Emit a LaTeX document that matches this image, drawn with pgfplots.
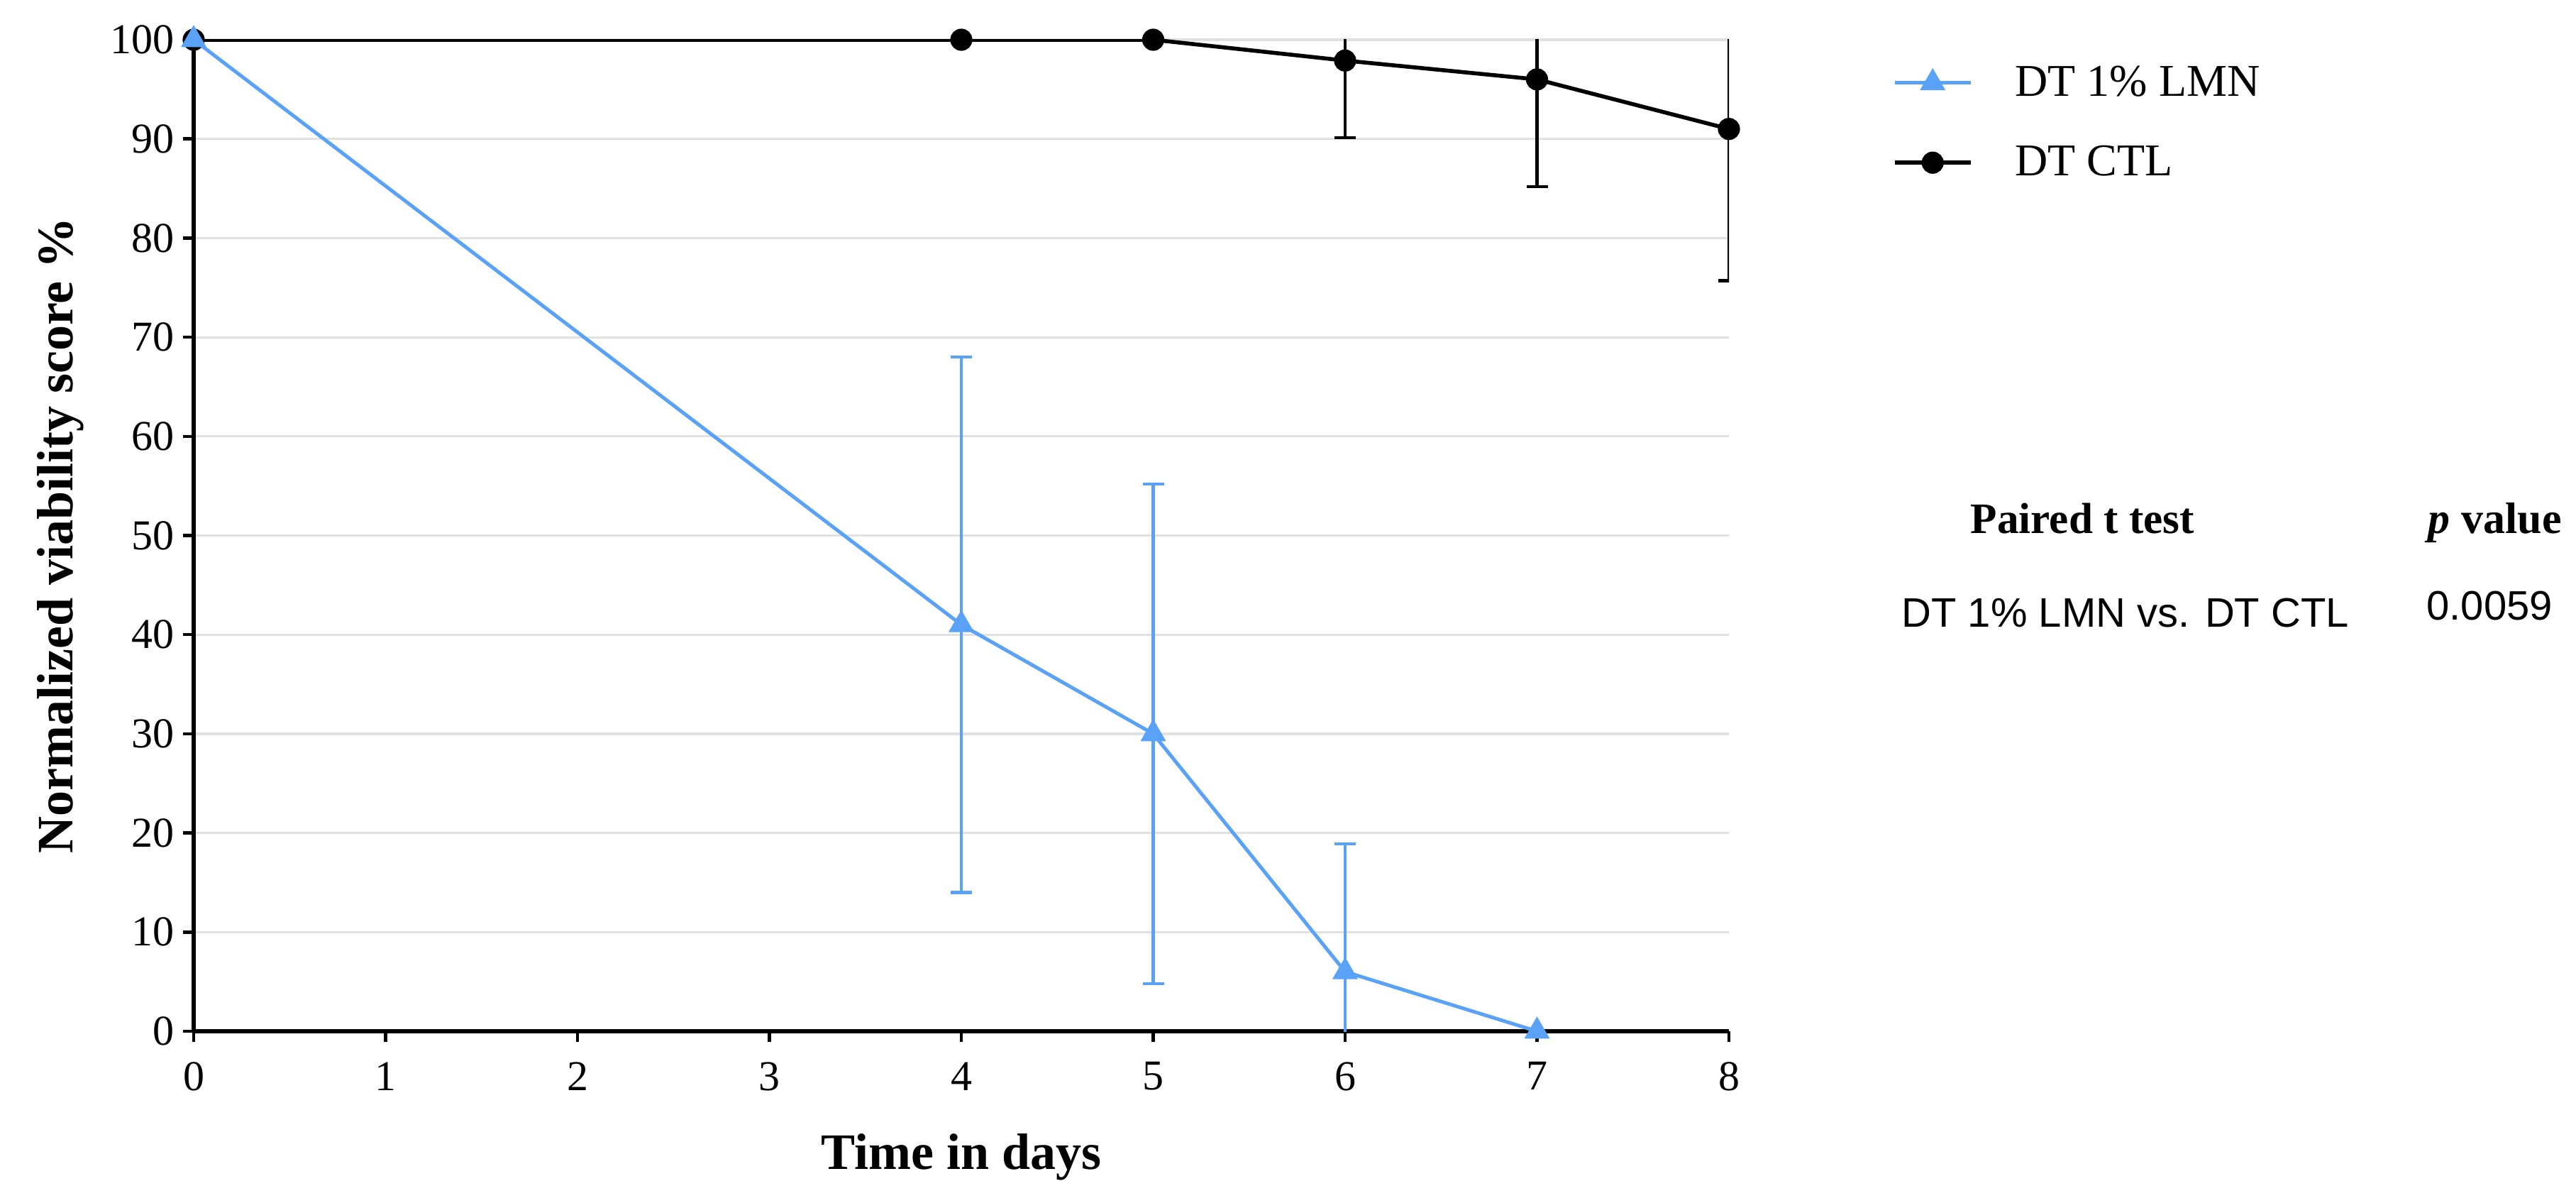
\documentclass[border=0pt]{standalone}
\usepackage{fontspec}
\setmainfont{Liberation Serif}
\newfontfamily\arialfont{Liberation Sans}
\usepackage{pgfplots}
\pgfplotsset{compat=1.18}
\definecolor{lmnblue}{RGB}{90,162,248}
\definecolor{gridgray}{RGB}{225,225,225}

\begin{document}
\begin{tikzpicture}
\begin{axis}[
    scale only axis,
    width=541pt, height=349.25pt,
    xmin=0, xmax=8, ymin=0, ymax=100,
    xtick={0,1,...,8},
    ytick={0,10,...,100},
    axis lines=left,
    axis line style={-, black, line width=1.4pt},
    tick style={black, line width=1.1pt},
    major tick length=3.7pt,
    tick align=outside,
    ymajorgrids,
    grid style={gridgray, line width=0.8pt},
    clip mode=individual,
    /pgf/number format/assume math mode=true,
    tick label style={font=\fontsize{15}{18}\selectfont, inner sep=0pt},
    xticklabel style={yshift=-7pt},
    yticklabel style={xshift=-3pt},
    xlabel={\bfseries Time in days},
    ylabel={\bfseries Normalized viability score \%},
    label style={font=\fontsize{18}{21}\selectfont},
    xlabel style={at={(axis description cs:0.5,-0.1389)}, anchor=base},
    ylabel style={at={(axis description cs:-0.0786,0.5)}, anchor=base, rotate=0},
    reverse legend,
    legend style={at={(1.1063,0.9163)}, anchor=west, draw=none, fill=none,
        inner sep=0pt, font=\fontsize{16}{19}\selectfont,
        row sep=16pt, column sep=15pt,
        nodes={inner sep=0pt, anchor=west}},
    legend cell align=left,
    legend image code/.code={
        \draw[mark repeat=2,mark phase=2] plot coordinates {(0pt,0pt) (13.4pt,0pt) (26.8pt,0pt)};},
]
% DT CTL
\addplot[black, line width=1.4pt, mark=*, mark size=3.5pt,
    mark options={solid, fill=black, line width=0.8pt}]
    table[x=x, y=y] {
    x y
    0 100
    4 100
    5 100
    6 97.9
    7 96.0
    8 91.0
    };
\addlegendentry{DT CTL}
\addplot[forget plot, black, only marks, mark=none,
    error bars/.cd, y dir=both, y explicit,
    error bar style={black, line width=1.05pt},
    error mark options={black, line width=1.05pt, mark size=3.75pt, rotate=90}]
    table[x=x, y=y, y error=e] {
    x y e
    6 97.9 7.8
    7 96.0 10.8
    8 91.0 15.3
    };

% DT 1% LMN
\addplot[lmnblue, line width=1.25pt, mark=triangle*, mark size=4.6pt,
    mark options={solid, fill=lmnblue, line width=0.6pt}]
    table[x=x, y=y] {
    x y
    0 100
    4 41
    5 30
    6 6
    7 0
    };
\addlegendentry{DT 1\% LMN}
\addplot[forget plot, lmnblue, only marks, mark=none,
    error bars/.cd, y dir=both, y explicit,
    error bar style={lmnblue, line width=1.1pt},
    error mark options={lmnblue, line width=1.1pt, mark size=3.75pt, rotate=90}]
    table[x=x, y=y, y error=e] {
    x y e
    4 41 27
    5 30 25.2
    6 6 12.9
    };

\node[anchor=base west, font=\fontsize{15.3}{18}\selectfont\bfseries]
    at (rel axis cs:1.151,0.502) {Paired t test};
\node[anchor=base west, font=\fontsize{15.5}{18}\selectfont\bfseries]
    at (rel axis cs:1.449,0.502) {\textit{p} value};
\node[anchor=base west, font=\fontsize{14.5}{17}\selectfont\arialfont]
    at (rel axis cs:1.106,0.408) {DT 1\% LMN vs. DT CTL};
\node[anchor=base west, font=\fontsize{14.5}{17}\selectfont\arialfont]
    at (rel axis cs:1.448,0.415) {0.0059};

\path (rel axis cs:-0.12616,-0.17251) rectangle (rel axis cs:1.55176,1.04009);
\end{axis}
\end{tikzpicture}
\end{document}
